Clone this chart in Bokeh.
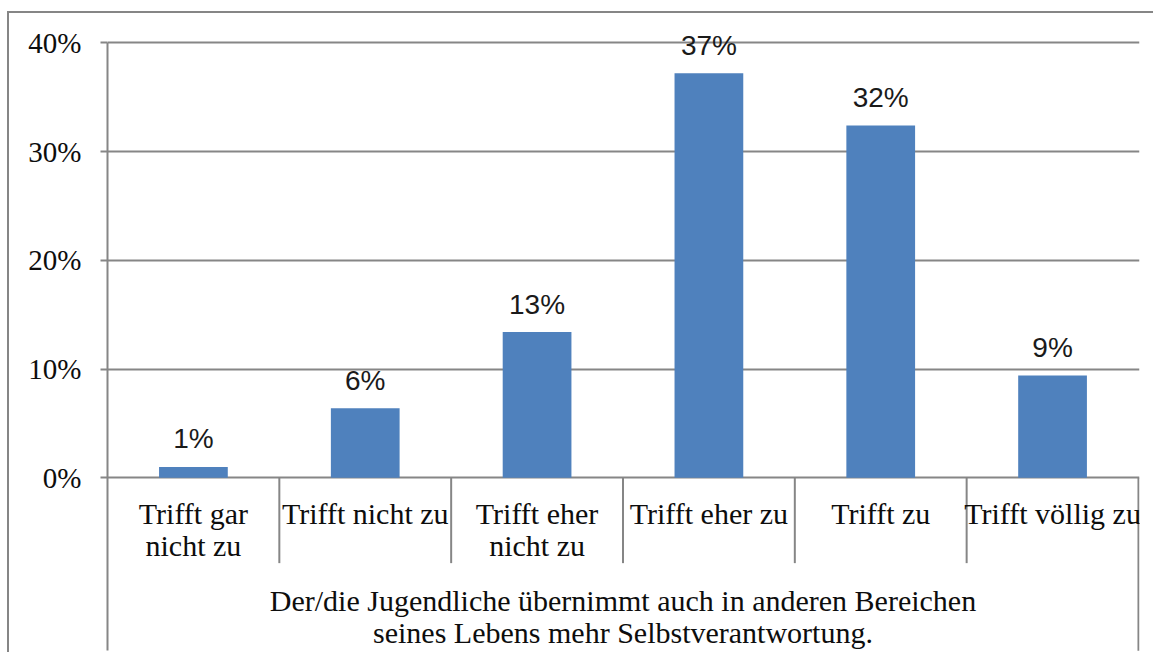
from bokeh.plotting import figure
from bokeh.models import Range1d, FixedTicker, PrintfTickFormatter
from bokeh.embed import file_html
from bokeh.resources import INLINE
from bokeh.core.properties import value
import numpy as np

# ---- data ----
categories = ["Trifft gar\nnicht zu", "Trifft nicht zu", "Trifft eher\nnicht zu",
              "Trifft eher zu", "Trifft zu", "Trifft völlig zu"]
shares = [1.0, 6.4, 13.4, 37.2, 32.4, 9.4]
group_label = ["Der/die Jugendliche übernimmt auch in anderen Bereichen",
               "seines Lebens mehr Selbstverantwortung."]
y_ticks = [0, 10, 20, 30, 40]

# ---- styling constants ----
GRAY = "#868686"
BAR = "#4F81BD"
SERIF = "Liberation Serif"
SANS = "Liberation Sans"
TXT = "#0d0d0d"
Y_MIN, Y_MAX = -16.16, 42.05
AXIS_BOTTOM = -15.9

n = len(categories)
xs = np.arange(n) + 0.5
line1 = [c.split("\n")[0] for c in categories]
line2 = [c.split("\n")[1] if "\n" in c else "" for c in categories]
value_labels = [f"{int(round(v))}%" for v in shares]

p = figure(width=1146, height=641,
           x_range=Range1d(0, n + 0.006), y_range=Range1d(Y_MIN, Y_MAX),
           output_backend="svg", toolbar_location=None, x_axis_location=None,
           min_border_left=98, min_border_right=16, min_border_top=7, min_border_bottom=1,
           styles={"margin-left": "7px", "margin-top": "11px",
                   "border-top": f"2px solid {GRAY}", "border-left": f"2px solid {GRAY}"})
p.outline_line_color = None
p.background_fill_color = "white"
p.border_fill_color = "white"
p.xgrid.visible = False

p.ygrid.ticker = FixedTicker(ticks=y_ticks)
p.ygrid.grid_line_color = GRAY
p.ygrid.grid_line_width = 2

ax = p.yaxis[0]
ax.ticker = FixedTicker(ticks=y_ticks)
ax.formatter = PrintfTickFormatter(format="%d%%")
ax.bounds = (AXIS_BOTTOM, 40)
ax.axis_line_color = GRAY
ax.axis_line_width = 2
ax.major_tick_line_color = GRAY
ax.major_tick_line_width = 2
ax.major_tick_out = 7
ax.major_tick_in = 0
ax.minor_tick_line_color = None
ax.major_label_text_font = SERIF
ax.major_label_text_font_size = "29px"
ax.major_label_text_color = TXT
ax.major_label_standoff = 19

# bars
p.vbar(x=xs, top=shares, bottom=0, width=0.4, fill_color=BAR, line_color=None)

# value labels
p.text(x=xs, y=shares, text=value_labels, text_align="center", text_baseline="middle",
       y_offset=-28, text_font=value(SANS), text_font_size="28px", text_color="#1a1a1a")

# category separators
inner = np.arange(1, n)
p.segment(x0=inner, y0=0, x1=inner, y1=-7.85, line_color=GRAY, line_width=2)
p.segment(x0=[n], y0=[0], x1=[n], y1=[AXIS_BOTTOM], line_color=GRAY, line_width=2)

# category labels
p.text(x=xs, y=-3.28, text=line1, text_align="center", text_baseline="middle",
       text_font=value(SERIF), text_font_size="30px", text_color=TXT)
p.text(x=xs, y=-6.26, text=line2, text_align="center", text_baseline="middle",
       text_font=value(SERIF), text_font_size="30px", text_color=TXT)

# group label
p.text(x=[n / 2, n / 2], y=[-11.30, -14.22], text=group_label, text_align="center",
       text_baseline="middle", text_font=value(SERIF), text_font_size="30px",
       text_color=TXT)

open("out.html", "w").write(file_html(p, INLINE))
